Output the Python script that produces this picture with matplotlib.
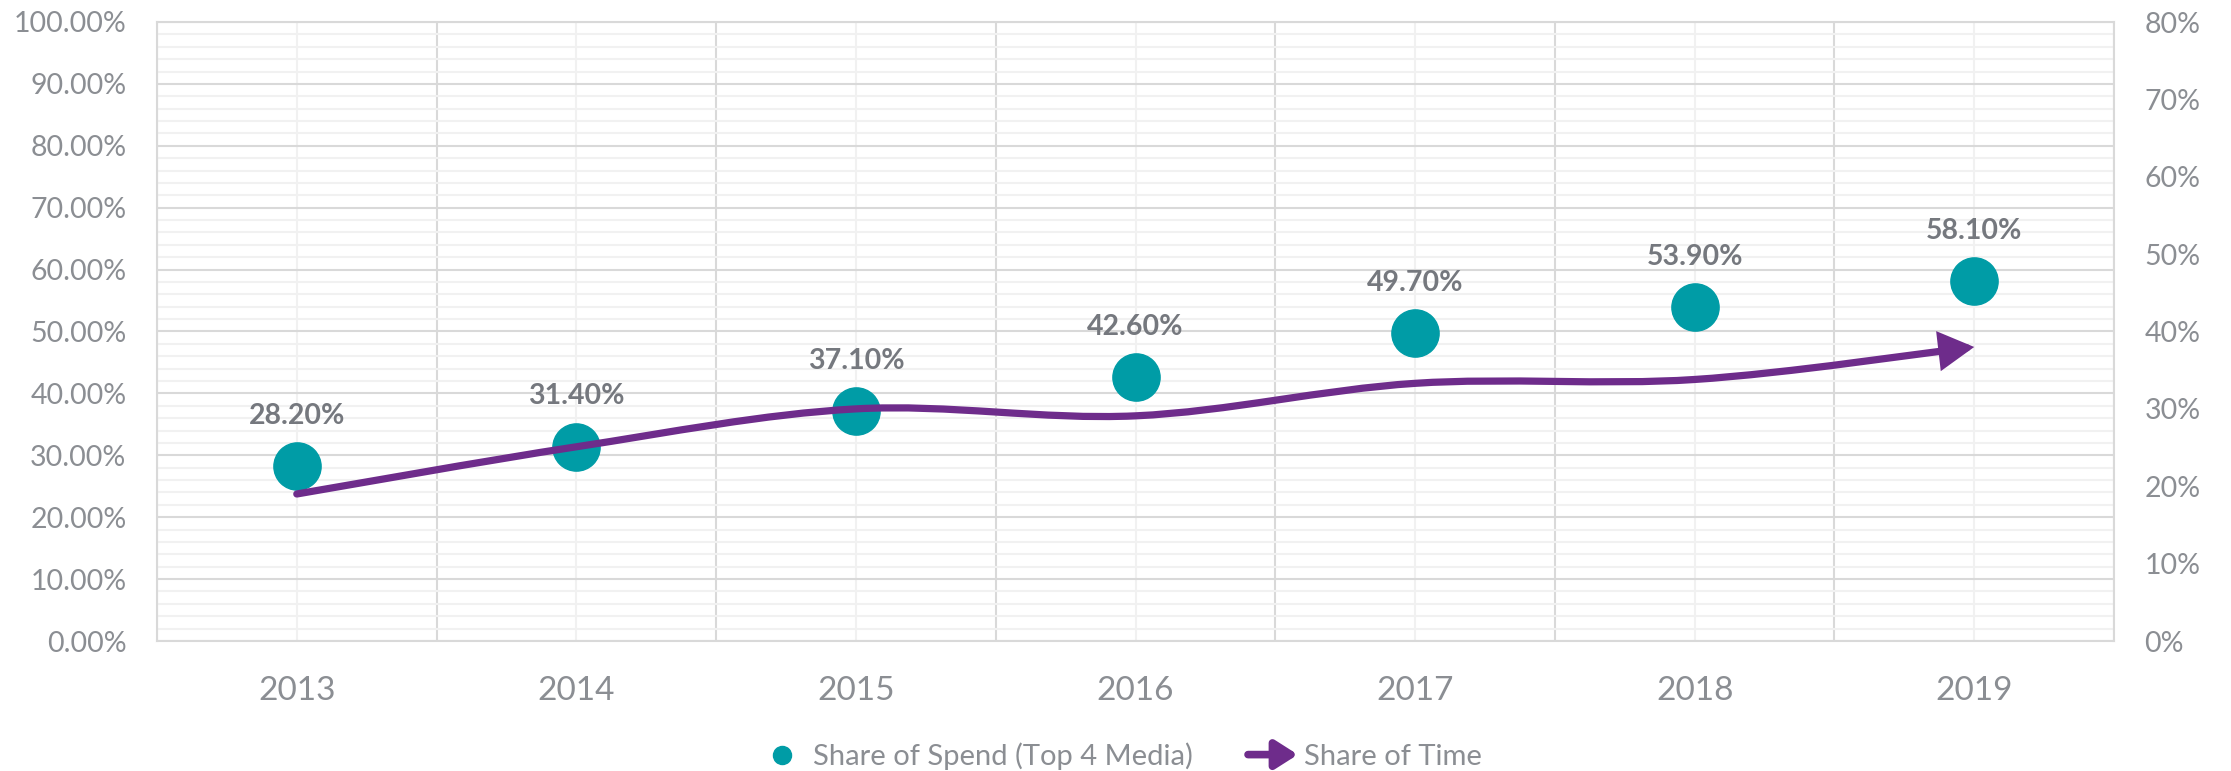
import matplotlib
matplotlib.use("Agg")
import matplotlib.pyplot as plt
import numpy as np
from matplotlib.path import Path
from matplotlib.patches import FancyArrowPatch
from matplotlib.lines import Line2D
from matplotlib.legend_handler import HandlerBase
from matplotlib.ticker import FuncFormatter, MultipleLocator

years = ["2013", "2014", "2015", "2016", "2017", "2018", "2019"]
share_of_spend = [0.282, 0.314, 0.371, 0.426, 0.497, 0.539, 0.581]
share_of_time = [0.190, 0.251, 0.300, 0.291, 0.333, 0.338, 0.380]

teal = "#009ca6"
purple = "#6e2c8b"
label_grey = "#75787e"
tick_grey = "#8b8e93"
grid_major = "#d9d9d9"
grid_minor = "#f1f1f1"

plt.rcParams["font.family"] = ["Lato", "DejaVu Sans"]


def smooth_path(xs, ys):
    # cubic bezier through every point, tangents taken from the neighbours
    pts = np.column_stack([xs, ys]).astype(float)
    padded = np.vstack([pts[:1], pts, pts[-1:]])
    verts = [pts[0]]
    codes = [Path.MOVETO]
    for i in range(len(pts) - 1):
        p0, p1, p2, p3 = padded[i], padded[i + 1], padded[i + 2], padded[i + 3]
        verts += [p1 + (p2 - p0) / 6, p2 - (p3 - p1) / 6, p2]
        codes += [Path.CURVE4] * 3
    return Path(verts, codes)


class ArrowHandler(HandlerBase):
    def create_artists(self, legend, orig_handle, xdescent, ydescent,
                       width, height, fontsize, trans):
        y = height / 2 - ydescent
        arrow = FancyArrowPatch((-xdescent, y), (width - xdescent, y),
                                arrowstyle="-|>,head_length=0.55,head_width=0.35",
                                mutation_scale=24, lw=5.5, color=purple,
                                capstyle="round", transform=trans)
        return [arrow]


fig = plt.figure(figsize=(22.31, 7.71), dpi=100)
ax = fig.add_axes([157 / 2231, 1 - 641 / 771, (2114 - 157) / 2231, (641 - 22) / 771])
x = np.arange(len(years))

# grid: light lines at the year centres, darker ones between categories
ax.set_xlim(-0.5, len(years) - 0.5)
ax.set_xticks(x)
ax.set_xticklabels(years)
ax.set_xticks(np.arange(-0.5, len(years), 1), minor=True)
ax.set_ylim(0, 1)
ax.yaxis.set_major_locator(MultipleLocator(0.1))
ax.yaxis.set_minor_locator(MultipleLocator(0.02))
ax.yaxis.set_major_formatter(FuncFormatter(lambda v, p: f"{v * 100:.2f}%"))
ax.set_axisbelow(True)
ax.xaxis.grid(True, which="major", color=grid_minor, lw=1.5)
ax.xaxis.grid(True, which="minor", color=grid_major, lw=1.5)
ax.yaxis.grid(True, which="major", color=grid_major, lw=1.5)
ax.yaxis.grid(True, which="minor", color=grid_minor, lw=1.5)
for s in ax.spines.values():
    s.set_color(grid_major)
    s.set_linewidth(1.5)
ax.tick_params(axis="both", which="both", length=0)
ax.tick_params(axis="y", pad=22, labelsize=20.5, colors=tick_grey)
ax.tick_params(axis="x", pad=25, labelsize=24, colors=tick_grey)

ax.plot(x, share_of_spend, "o", color=teal, markersize=34, zorder=3)
for i, v in enumerate(share_of_spend):
    ax.annotate(f"{v * 100:.2f}%", (i, v), xytext=(0, 30.6), textcoords="offset points",
                ha="center", va="baseline", fontsize=20.5, fontweight="bold", color=label_grey)

ax2 = ax.twinx()
ax2.set_ylim(0, 0.8)
ax2.yaxis.set_major_locator(MultipleLocator(0.1))
ax2.yaxis.set_major_formatter(FuncFormatter(lambda v, p: f"{v * 100:.0f}%"))
ax2.tick_params(axis="y", length=0, pad=22, labelsize=20.5, colors=tick_grey)
for s in ax2.spines.values():
    s.set_visible(False)

curve = FancyArrowPatch(path=smooth_path(x, share_of_time),
                        arrowstyle="-|>,head_length=0.5,head_width=0.28",
                        mutation_scale=36, lw=5.2, color=purple, capstyle="round",
                        joinstyle="miter")
ax2.add_patch(curve)

spend_handle = Line2D([], [], marker="o", linestyle="none", markersize=13, color=teal)
time_handle = Line2D([], [], color=purple)
fig.legend([spend_handle, time_handle], ["Share of Spend (Top 4 Media)", "Share of Time"],
           loc="center", bbox_to_anchor=(1118 / 2231, 1 - 756 / 771), ncol=2,
           frameon=False, fontsize=21, handlelength=1.9, handletextpad=0.1,
           columnspacing=1.8, labelcolor=tick_grey,
           handler_map={time_handle: ArrowHandler()})

fig.savefig("out.png", dpi=100)
